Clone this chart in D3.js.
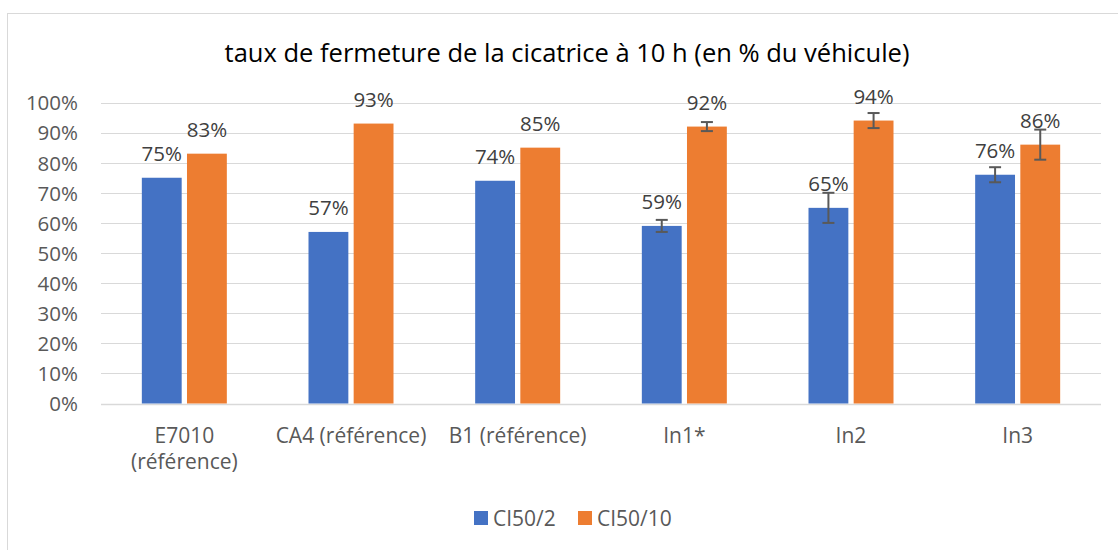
<!DOCTYPE html>
<html>
<head>
<meta charset="utf-8">
<script src="https://cdn.jsdelivr.net/npm/d3@7"></script>
<style>
  html, body { margin: 0; padding: 0; background: #fff; }
  svg { display: block; font-family: "Open Sans", sans-serif; }
</style>
</head>
<body>
<svg id="chart" width="1118" height="550"></svg>
<script>
// Wound closure at 10 h, as % of vehicle
const categories = [["E7010", "(référence)"], ["CA4 (référence)"], ["B1 (référence)"], ["In1*"], ["In2"], ["In3"]];
const seriesNames = ["CI50/2", "CI50/10"];
const valuesCI2 = [75, 57, 74, 59, 65, 76];
const valuesCI10 = [83, 93, 85, 92, 94, 86];
const errorsCI2 = [null, null, null, 2, 5, 2.5];
const errorsCI10 = [null, null, null, 1.5, 2.5, 5];
const yTicks = [0, 10, 20, 30, 40, 50, 60, 70, 80, 90, 100];
const titleText = "taux de fermeture de la cicatrice à 10 h (en % du véhicule)";

const colors = ["#4472C4", "#ED7D31"];
const series = [
  { name: seriesNames[0], values: valuesCI2, errors: errorsCI2, color: colors[0] },
  { name: seriesNames[1], values: valuesCI10, errors: errorsCI10, color: colors[1] }
];

const svg = d3.select("#chart");
const plot = { left: 101, right: 1101, top: 102.5, bottom: 403.5 };

// chart frame
svg.append("rect")
  .attr("x", 7.5).attr("y", 13.5)
  .attr("width", 1200).attr("height", 600)
  .attr("fill", "#fff").attr("stroke", "#d9d9d9").attr("stroke-width", 1);

// title, sized to its line width
const title = svg.append("text")
  .attr("x", 567).attr("y", 62)
  .attr("text-anchor", "middle")
  .attr("fill", "#000")
  .style("font-size", "22px")
  .text(titleText);
const tw = title.node().getComputedTextLength();
title.style("font-size", (22 * 685 / tw) + "px");

const x0 = d3.scaleBand()
  .domain(d3.range(categories.length))
  .range([plot.left, plot.right]);
const barW = 37.5, barGap = 10;
const x1 = d3.scaleBand()
  .domain(d3.range(series.length))
  .range([-(barW + barGap / 2), barW + barGap / 2])
  .paddingInner(barGap / (2 * barW + barGap))
  .paddingOuter(0);

const y = d3.scaleLinear().domain([0, 100]).range([plot.bottom, plot.top]);

// gridlines
svg.append("g")
  .selectAll("line")
  .data(yTicks)
  .join("line")
  .attr("x1", plot.left).attr("x2", plot.right)
  .attr("y1", d => Math.round(y(d)) + 0.5).attr("y2", d => Math.round(y(d)) + 0.5)
  .attr("stroke", "#d9d9d9").attr("stroke-width", d => d === 0 ? 1.5 : 1.2);

// y axis labels
const yAxis = d3.axisLeft(y).tickValues(yTicks).tickFormat(d => d + "%").tickSize(0).tickPadding(0);
const yg = svg.append("g").attr("transform", `translate(78,0)`).call(yAxis);
yg.select(".domain").remove();
yg.selectAll("text")
  .attr("fill", "#595959")
  .style("font-size", "20.5px")
  .style("font-family", "'Open Sans', sans-serif")
  .attr("dy", "0.36em");

// x axis labels
const xg = svg.append("g");
categories.forEach((lines, i) => {
  const t = xg.append("text")
    .attr("x", x0(i) + x0.bandwidth() / 2)
    .attr("y", 443)
    .attr("text-anchor", "middle")
    .attr("fill", "#595959")
    .style("font-size", "21px");
  lines.forEach((ln, k) => {
    t.append("tspan")
      .attr("x", x0(i) + x0.bandwidth() / 2)
      .attr("dy", k === 0 ? 0 : 26)
      .text(ln);
  });
});

// bars, error bars and value labels
series.forEach((s, si) => {
  const g = svg.append("g");
  const cx = i => x0(i) + x0.bandwidth() / 2 + x1(si);
  g.selectAll("rect")
    .data(s.values)
    .join("rect")
    .attr("x", (d, i) => cx(i))
    .attr("y", d => y(d))
    .attr("width", x1.bandwidth())
    .attr("height", d => y(0) - y(d))
    .attr("fill", s.color);

  const eb = g.append("g")
    .selectAll("g")
    .data(s.values.map((v, i) => ({ v, e: s.errors[i], i })).filter(d => d.e != null))
    .join("g")
    .attr("stroke", "#595959").attr("stroke-width", 2);
  const mid = d => cx(d.i) + x1.bandwidth() / 2;
  eb.append("line")
    .attr("x1", mid).attr("x2", mid)
    .attr("y1", d => y(d.v + d.e)).attr("y2", d => y(d.v - d.e));
  eb.append("line")
    .attr("x1", d => mid(d) - 6).attr("x2", d => mid(d) + 6)
    .attr("y1", d => y(d.v + d.e)).attr("y2", d => y(d.v + d.e));
  eb.append("line")
    .attr("x1", d => mid(d) - 6).attr("x2", d => mid(d) + 6)
    .attr("y1", d => y(d.v - d.e)).attr("y2", d => y(d.v - d.e));

  g.selectAll("text.val")
    .data(s.values)
    .join("text")
    .attr("class", "val")
    .attr("x", (d, i) => cx(i) + x1.bandwidth() / 2)
    .attr("y", d => y(d) - 17)
    .attr("text-anchor", "middle")
    .attr("fill", "#404040")
    .style("font-size", "20.5px")
    .text(d => d + "%");
});

// legend
const legend = svg.append("g");
const legendX = [474, 578];
series.forEach((s, si) => {
  legend.append("rect")
    .attr("x", legendX[si]).attr("y", 511)
    .attr("width", 14).attr("height", 14)
    .attr("fill", s.color);
  legend.append("text")
    .attr("x", legendX[si] + 19).attr("y", 525.5)
    .attr("fill", "#595959")
    .style("font-size", "21px")
    .text(s.name);
});
</script>
</body>
</html>
